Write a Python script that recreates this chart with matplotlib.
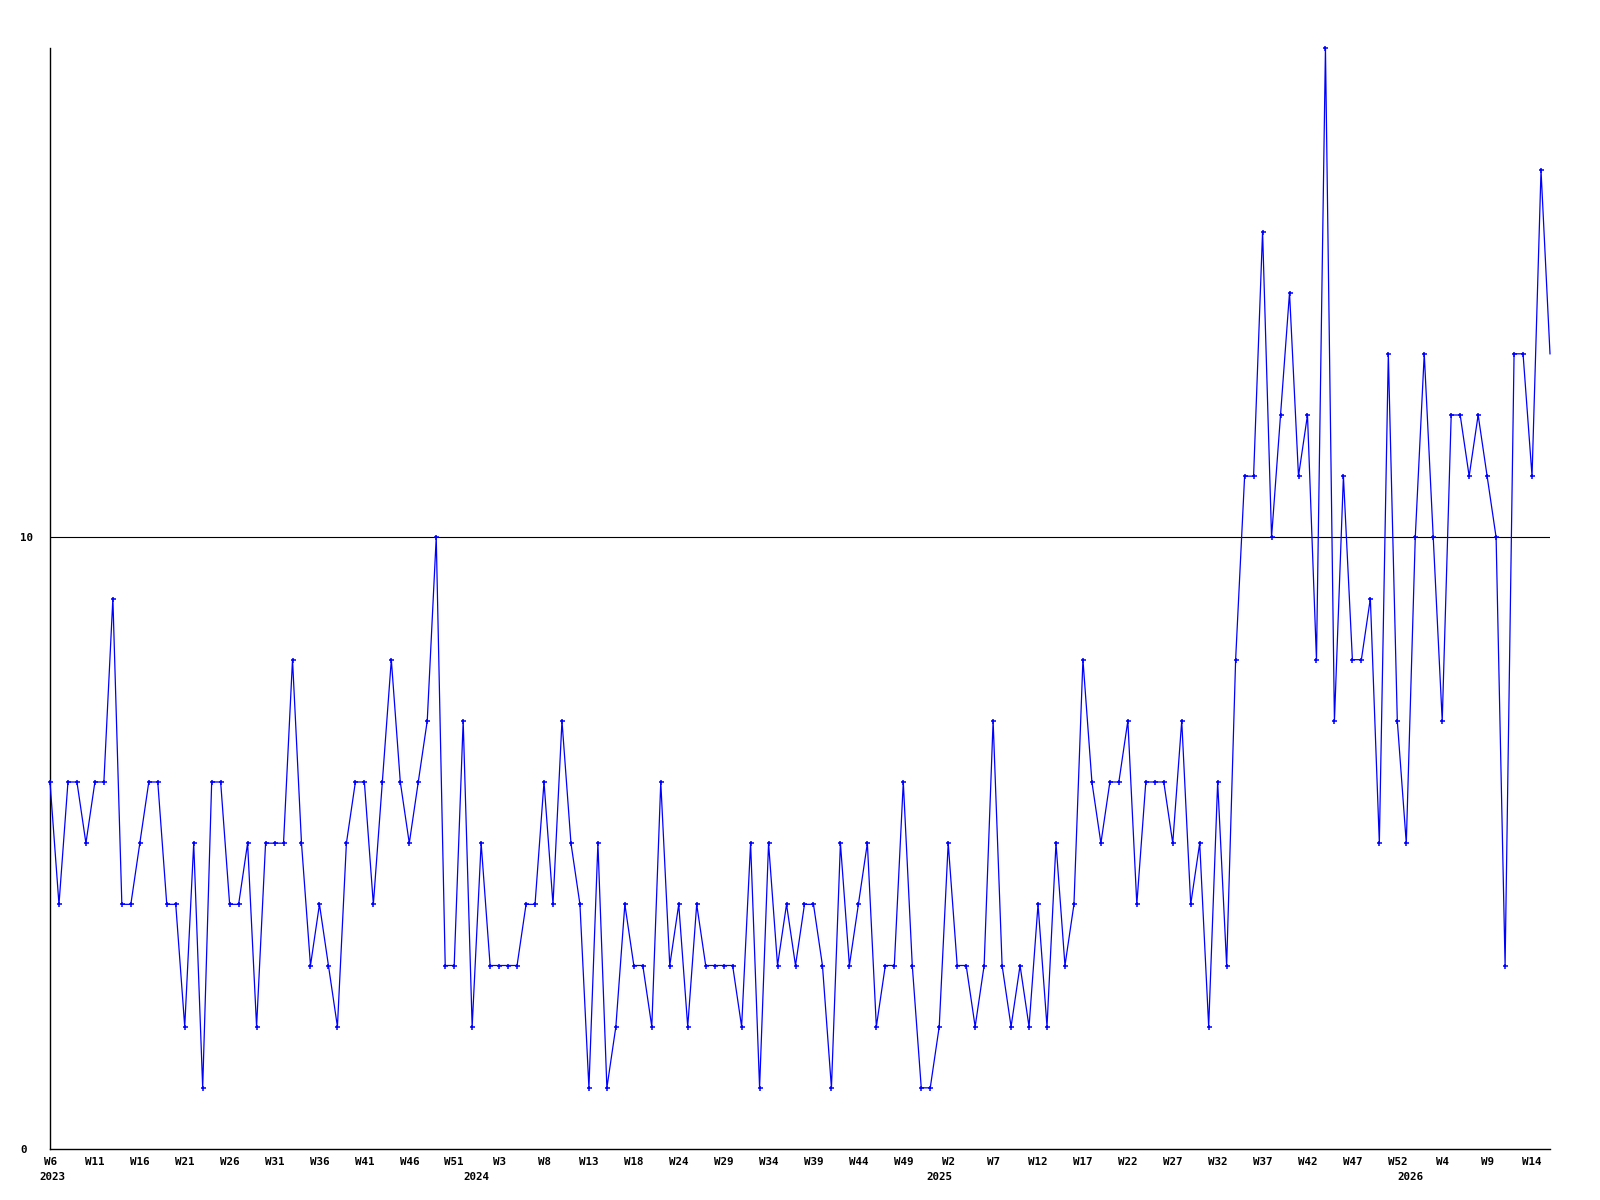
import matplotlib
matplotlib.use('Agg')
import matplotlib.pyplot as plt
import matplotlib.transforms as mtransforms

# weekly counts, one per point, 2023 W6 .. 2026 W16
values = [
    6, 4, 6, 6, 5, 6, 6, 9, 4, 4, 5, 6, 6, 4, 4, 2, 5, 1, 6, 6,
    4, 4, 5, 2, 5, 5, 5, 8, 5, 3, 4, 3, 2, 5, 6, 6, 4, 6, 8, 6,
    5, 6, 7, 10, 3, 3, 7, 2, 5, 3, 3, 3, 3, 4, 4, 6, 4, 7, 5, 4,
    1, 5, 1, 2, 4, 3, 3, 2, 6, 3, 4, 2, 4, 3, 3, 3, 3, 2, 5, 1,
    5, 3, 4, 3, 4, 4, 3, 1, 5, 3, 4, 5, 2, 3, 3, 6, 3, 1, 1, 2,
    5, 3, 3, 2, 3, 7, 3, 2, 3, 2, 4, 2, 5, 3, 4, 8, 6, 5, 6, 6,
    7, 4, 6, 6, 6, 5, 7, 4, 5, 2, 6, 3, 8, 11, 11, 15, 10, 12, 14, 11,
    12, 8, 18, 7, 11, 8, 8, 9, 5, 13, 7, 5, 10, 13, 10, 7, 12, 12, 11, 12,
    11, 10, 3, 13, 13, 11, 16, 13,
]

week_labels = [
    'W6', 'W11', 'W16', 'W21', 'W26', 'W31', 'W36', 'W41', 'W46', 'W51',
    'W3', 'W8', 'W13', 'W18', 'W24', 'W29', 'W34', 'W39', 'W44', 'W49',
    'W2', 'W7', 'W12', 'W17', 'W22', 'W27', 'W32', 'W37', 'W42', 'W47',
    'W52', 'W4', 'W9', 'W14',
]

years = ['2023', '2024', '2025', '2026']
year_pos = [0.3, 47.5, 99, 151.5]

font = dict(family='DejaVu Sans Mono', weight='bold', size=7.8)

fig = plt.figure(figsize=(16, 12), dpi=100)
ax = fig.add_axes([50 / 1600, 51 / 1200, 1500 / 1600, 1101 / 1200])

xs = list(range(len(values)))
ax.plot(xs, values, color='#0000ff', lw=0.9, marker='+', ms=3.6, mew=1.1,
        markevery=list(range(len(values) - 1)), clip_on=False, zorder=3)

ax.axhline(10, color='black', lw=0.8, zorder=2)

ax.set_xlim(0, len(values) - 1)
ax.set_ylim(0, 18)

for s in ['top', 'right']:
    ax.spines[s].set_visible(False)
for s in ['left', 'bottom']:
    ax.spines[s].set_color('black')
    ax.spines[s].set_linewidth(1.0)

ax.set_xticks(range(0, len(values), 5))
ax.set_xticklabels(week_labels, **font)
ax.set_yticks([0, 10])
ax.set_yticklabels(['0', '10'], **font)
for lbl in ax.get_yticklabels():
    lbl.set_horizontalalignment('left')
ax.tick_params(axis='x', length=0, pad=5.5)
ax.tick_params(axis='y', length=0, pad=21.6)

trans = mtransforms.blended_transform_factory(ax.transData, fig.transFigure)
for yr, p in zip(years, year_pos):
    ax.text(p, 1 - 1177 / 1200, yr, transform=trans, ha='center',
            va='center', **font)

fig.savefig('out.png', dpi=100)
